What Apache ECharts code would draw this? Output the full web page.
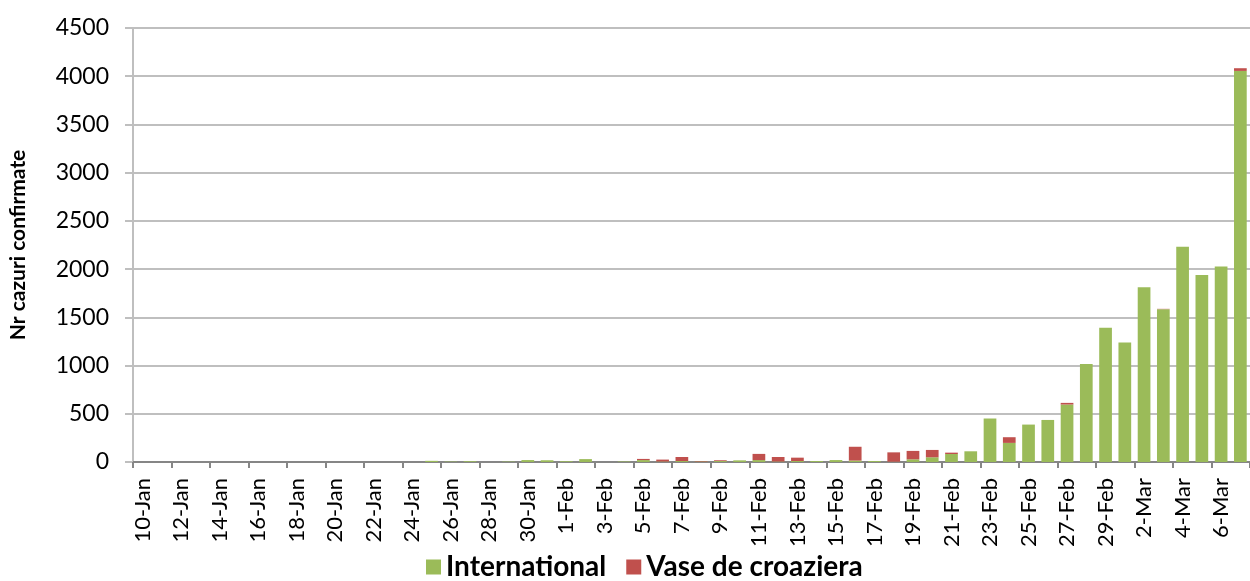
<!DOCTYPE html>
<html>
<head>
<meta charset="utf-8">
<script src="https://cdn.jsdelivr.net/npm/echarts@6/dist/echarts.min.js"></script>
<style>
  html, body { margin: 0; padding: 0; background: #fff; }
  #chart { width: 1250px; height: 581px; }
</style>
</head>
<body>
<div id="chart"></div>
<script>
const days = [
    '10-Jan', '11-Jan', '12-Jan', '13-Jan', '14-Jan', '15-Jan', '16-Jan', '17-Jan', '18-Jan', '19-Jan',
    '20-Jan', '21-Jan', '22-Jan', '23-Jan', '24-Jan', '25-Jan', '26-Jan', '27-Jan', '28-Jan', '29-Jan',
    '30-Jan', '31-Jan',
    '1-Feb', '2-Feb', '3-Feb', '4-Feb', '5-Feb', '6-Feb', '7-Feb', '8-Feb', '9-Feb', '10-Feb',
    '11-Feb', '12-Feb', '13-Feb', '14-Feb', '15-Feb', '16-Feb', '17-Feb', '18-Feb', '19-Feb', '20-Feb',
    '21-Feb', '22-Feb', '23-Feb', '24-Feb', '25-Feb', '26-Feb', '27-Feb', '28-Feb', '29-Feb',
    '1-Mar', '2-Mar', '3-Mar', '4-Mar', '5-Mar', '6-Mar', '7-Mar',
];

// cazuri noi pe zi
const international = [
    0, 0, 0, 0, 0, 0, 0, 0, 0, 0,
    0, 0, 0, 0, 0, 12, 4, 8, 0, 4,
    20, 18,
    8, 30, 0, 5, 20, 5, 10, 5, 10, 17,
    20, 5, 10, 10, 20, 15, 10, 3, 28, 49,
    83, 111, 451, 198, 388, 436, 596, 1017, 1391,
    1239, 1813, 1585, 2232, 1938, 2028, 4055,
];

const cruiseShips = [
    0, 0, 0, 0, 0, 0, 0, 0, 0, 0,
    0, 0, 0, 0, 0, 0, 0, 0, 0, 0,
    0, 0,
    0, 0, 0, 0, 12, 20, 42, 5, 8, 0,
    64, 47, 35, 0, 0, 143, 0, 97, 87, 76,
    14, 0, 0, 59, 0, 0, 17, 0, 0,
    0, 0, 3, 0, 0, 0, 28,
];

const chart = echarts.init(document.getElementById('chart'), null, { renderer: 'canvas' });

const font = 'Lato, "Liberation Sans", sans-serif';

const option = {
    backgroundColor: '#fff',
    animation: false,
    textStyle: { fontFamily: font },
    grid: { left: 132, top: 28, right: -9, bottom: 119 },
    legend: {
        bottom: -5,
        left: 421,
        itemWidth: 15,
        itemHeight: 15,
        itemGap: 20,
        icon: 'rect',
        textStyle: { color: '#000', fontSize: 28, fontWeight: 'bold', fontFamily: font },
        data: ['International', 'Vase de croaziera'],
    },
    xAxis: {
        type: 'category',
        data: days,
        axisLine: { lineStyle: { color: '#868686', width: 2 } },
        axisTick: { show: true, interval: 1, length: 6, lineStyle: { color: '#868686', width: 2 } },
        axisLabel: { interval: 1, rotate: 90, margin: 16, color: '#000', fontSize: 22, fontFamily: font },
    },
    yAxis: {
        type: 'value',
        min: 0,
        max: 4500,
        interval: 500,
        name: 'Nr cazuri confirmate',
        nameLocation: 'middle',
        nameGap: 104,
        nameTextStyle: { color: '#000', fontSize: 21, fontWeight: 'bold', fontFamily: font },
        axisLine: { show: true, lineStyle: { color: '#bfbfbf', width: 2 } },
        axisTick: { show: true, length: 8, lineStyle: { color: '#bfbfbf', width: 2 } },
        splitLine: { lineStyle: { color: '#bfbfbf', width: 2 } },
        axisLabel: { margin: 24, color: '#000', fontSize: 23, fontFamily: font, formatter: (v) => String(v) },
    },
    series: [
        {
            name: 'International',
            type: 'bar',
            stack: 'total',
            barCategoryGap: '34%',
            data: international,
            itemStyle: { color: '#9bbb59' },
        },
        {
            name: 'Vase de croaziera',
            type: 'bar',
            stack: 'total',
            data: cruiseShips,
            itemStyle: { color: '#c0504d' },
        },
    ],
};

chart.setOption(option);
</script>
</body>
</html>
